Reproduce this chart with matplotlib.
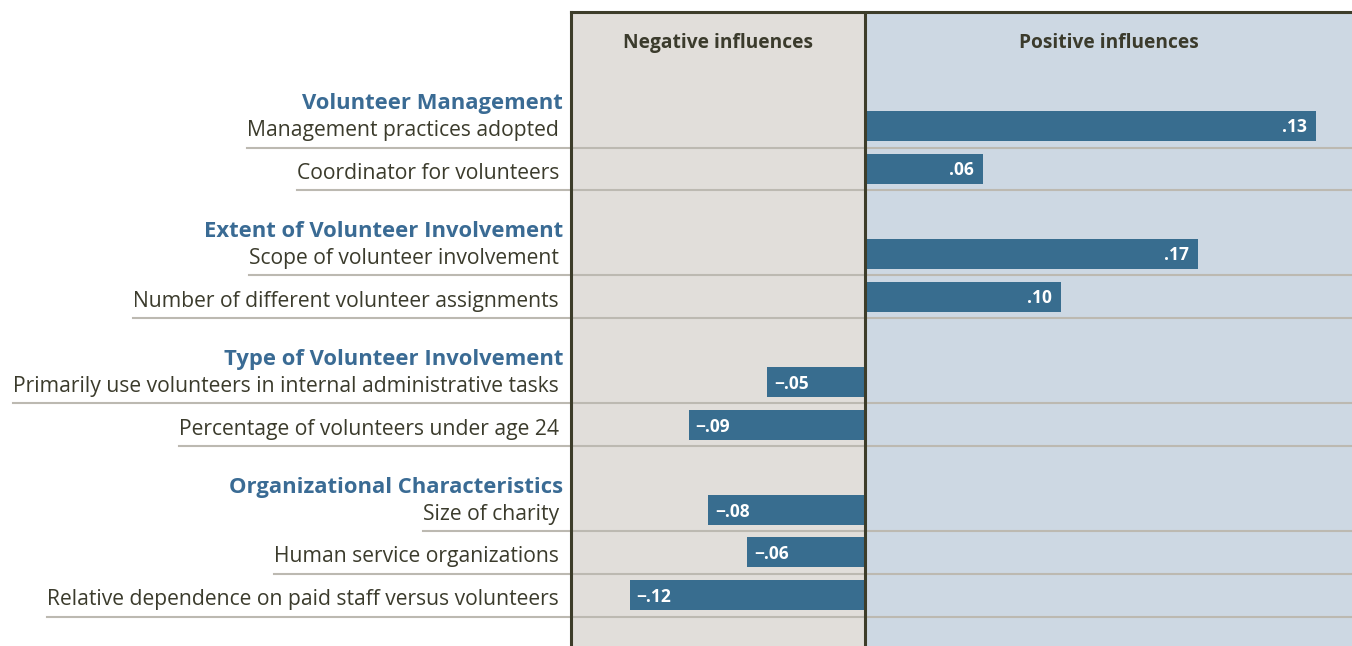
import matplotlib
matplotlib.use("Agg")
from matplotlib import pyplot as plt
import numpy as np

plt.rcParams['font.family'] = ['Open Sans', 'DejaVu Sans']

# groups and rows, top to bottom
groups = ["Volunteer Management",
          "Extent of Volunteer Involvement",
          "Type of Volunteer Involvement",
          "Organizational Characteristics"]
row_group = [0, 0, 1, 1, 2, 2, 3, 3, 3]
row_labels = ["Management practices adopted",
              "Coordinator for volunteers",
              "Scope of volunteer involvement",
              "Number of different volunteer assignments",
              "Primarily use volunteers in internal administrative tasks",
              "Percentage of volunteers under age 24",
              "Size of charity",
              "Human service organizations",
              "Relative dependence on paid staff versus volunteers"]
# printed coefficients and bar lengths as drawn in the picture
value_labels = [".13", ".06", ".17", ".10", "\u2212.05", "\u2212.09", "\u2212.08", "\u2212.06", "\u2212.12"]
bar_values = [0.23, 0.06, 0.17, 0.10, -0.05, -0.09, -0.08, -0.06, -0.12]

bar_col = "#386d8f"
neg_bg = "#e1deda"
pos_bg = "#cdd8e3"
frame_col = "#3d3d2a"
sep_col = "#bcb9b1"
head_col = "#3a6b94"
text_col = "#3b3b2c"

W, H = 1352, 646
fig = plt.figure(figsize=(W / 100, H / 100), dpi=100)
ax = fig.add_axes([571 / W, 0, 1 - 571 / W, (H - 12) / H])
xmin, xmax = -0.15, 0.2485
ax.set_xlim(xmin, xmax)
# y in pixel rows from top of figure
ax.set_ylim(H, 12)

ax.axvspan(xmin, 0, color=neg_bg, zorder=0)
ax.axvspan(0, xmax, color=pos_bg, zorder=0)

ys = np.array([126 + 42.7 * i + 42.5 * g for i, g in enumerate(row_group)])

ax.barh(ys, bar_values, height=30, color=bar_col, zorder=2)

for y, v, lab in zip(ys, bar_values, value_labels):
    if v > 0:
        ax.text(v - 0.0045, y + 1, lab, ha="right", va="center", color="white",
                fontsize=12.5, fontweight="bold", zorder=3)
    else:
        ax.text(v + 0.0035, y + 2, lab, ha="left", va="center", color="white",
                fontsize=12.5, fontweight="bold", zorder=3)

ax.axvline(0, color=frame_col, lw=2.2, zorder=4)
for s in ["right", "bottom"]:
    ax.spines[s].set_visible(False)
for s in ["left", "top"]:
    ax.spines[s].set_color(frame_col)
    ax.spines[s].set_linewidth(2.2)
    ax.spines[s].set_zorder(4)
ax.set_xticks([])
ax.set_yticks([])

ax.text(xmin / 2, 43, "Negative influences", ha="center", va="center",
        fontsize=13.8, fontweight="bold", color=text_col)
ax.text(xmax / 2, 43, "Positive influences", ha="center", va="center",
        fontsize=13.8, fontweight="bold", color=text_col)

ytr = ax.get_yaxis_transform()
lab_x = (559 - 571) / (W - 571)
head_x = (563 - 571) / (W - 571)

texts = []
for y, lab in zip(ys, row_labels):
    t = ax.text(lab_x, y + 4.5, lab, transform=ytr, ha="right", va="center",
                fontsize=15.2, color=text_col, clip_on=False)
    texts.append(t)

for g, name in enumerate(groups):
    first = row_group.index(g)
    ax.text(head_x, ys[first] - 22.5, name, transform=ytr, ha="right", va="center",
            fontsize=15.8, fontweight="bold", color=head_col, clip_on=False)

fig.canvas.draw()
bb_ax = ax.get_window_extent()
for y, t in zip(ys, texts):
    x0 = t.get_window_extent().x0
    xa = (x0 - bb_ax.x0) / bb_ax.width
    ax.plot([xa, 1], [y + 21.5, y + 21.5], transform=ytr, color=sep_col,
            lw=1.5, clip_on=False, zorder=1)

fig.savefig("out.png", dpi=100)
